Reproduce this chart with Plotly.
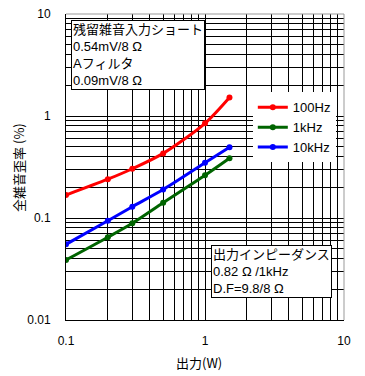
import plotly.graph_objects as go

power_w = [0.1, 0.2, 0.3, 0.5, 1.0, 1.5]
thd_100hz = [0.168, 0.24, 0.304, 0.43, 0.848, 1.52]
thd_1khz = [0.0387, 0.0647, 0.0887, 0.141, 0.262, 0.385]
thd_10khz = [0.0552, 0.094, 0.129, 0.19, 0.348, 0.493]

series_names = ["100Hz", "1kHz", "10kHz"]
series_colors = ["#ff0000", "#006400", "#0000ff"]
series_values = [thd_100hz, thd_1khz, thd_10khz]

x_tick_vals = [0.1, 1, 10]
x_tick_text = ["0.1", "1", "10"]
y_tick_vals = [0.01, 0.1, 1, 10]
y_tick_text = ["0.01", "0.1", "1", "10"]

JP = "Noto Sans CJK JP"
MIX = "Liberation Sans, Noto Sans CJK JP"
LAT = "Liberation Sans"

fig = go.Figure()
for name, color, vals in zip(series_names, series_colors, series_values):
    fig.add_trace(go.Scatter(
        x=power_w, y=vals, name=name, mode="lines+markers",
        line=dict(color=color, width=3, shape="spline", smoothing=0.8),
        marker=dict(color=color, size=6),
    ))

grid = dict(showgrid=True, gridcolor="black", gridwidth=1,
            minor=dict(showgrid=True, gridcolor="black", gridwidth=1, dtick="D1"))

fig.update_layout(
    width=365, height=376,
    margin=dict(l=66, r=21, t=14, b=56, autoexpand=False),
    paper_bgcolor="white", plot_bgcolor="white",
    font=dict(family=LAT, size=12, color="black"),
    showlegend=True,
    legend=dict(x=0.672, y=0.744, xanchor="left", yanchor="top",
                bgcolor="white", borderwidth=0,
                font=dict(family=LAT, size=13), itemwidth=30,
                tracegroupgap=0),
    xaxis=dict(type="log", range=[-1, 1], tickvals=x_tick_vals, ticktext=x_tick_text,
               ticks="", showline=True, linecolor="black", linewidth=1, mirror=False,
               ticklabelstandoff=10, automargin=False,
               zeroline=False, **grid),
    yaxis=dict(type="log", range=[-2, 1], tickvals=y_tick_vals, ticktext=y_tick_text,
               ticks="", showline=True, linecolor="black", linewidth=1, mirror=False,
               ticklabelstandoff=12, automargin=False,
               zeroline=False, **grid),
)

fig.add_shape(type="line", xref="paper", yref="paper", x0=0, x1=1, y0=1, y1=1,
              line=dict(color="#999999", width=1))
fig.add_shape(type="line", xref="paper", yref="paper", x0=1, x1=1, y0=0, y1=1,
              line=dict(color="#999999", width=1))

# axis titles
fig.add_annotation(xref="paper", yref="paper", x=0.477, y=-0.14,
                   xanchor="center", yanchor="middle", showarrow=False,
                   text="出力(W)", font=dict(family=JP, size=13, color="black"))
fig.add_annotation(xref="paper", yref="paper", x=-0.173, y=0.5,
                   xanchor="center", yanchor="middle", showarrow=False, textangle=-90,
                   text="全雑音歪率 (%)", font=dict(family=JP, size=13, color="black"))

fig.add_annotation(
    xref="paper", yref="paper", x=0.018, y=0.98, xanchor="left", yanchor="top",
    text="残留雑音入力ショート<br>0.54mV/8 Ω<br>Aフィルタ<br>0.09mV/8 Ω",
    align="left", showarrow=False, bgcolor="white", bordercolor="black",
    borderwidth=1, borderpad=1, font=dict(family=MIX, size=13, color="black"))

fig.add_annotation(
    xref="paper", yref="paper", x=0.522, y=0.245, xanchor="left", yanchor="top",
    text="出力インピーダンス<br>0.82 Ω /1kHz<br>D.F=9.8/8 Ω",
    align="left", showarrow=False, bgcolor="white", bordercolor="black",
    borderwidth=1, borderpad=1, font=dict(family=MIX, size=13, color="black"))

fig.write_html("out.html", config={"displayModeBar": False},
               post_script="document.body.style.margin='0';")
